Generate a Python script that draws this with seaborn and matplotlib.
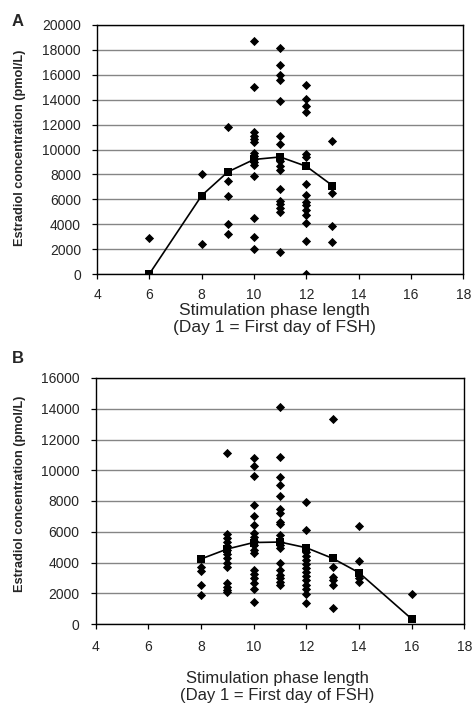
import matplotlib
matplotlib.use("Agg")
import matplotlib.pyplot as plt
import seaborn as sns
import pandas as pd

# ---------------- Panel A data ----------------
a_days = [6, 8, 9, 10, 11, 12, 13]
a_day6 = [2880]
a_day8 = [8060, 2440]
a_day9 = [11790, 7450, 6260, 4000, 3200]
a_day10 = [18720, 15040, 11400, 11100, 10850, 10600, 9750, 9500, 9250, 9000,
           8750, 7850, 4520, 2980, 1990]
a_day11 = [18130, 16750, 16000, 15600, 13920, 11070, 10450, 9060, 8710, 8390,
           6800, 5890, 5620, 5300, 4980, 1750]
a_day12 = [15150, 14080, 13520, 13000, 9600, 9400, 7200, 6370, 5780, 5510,
           5160, 4760, 4110, 2690, 0]
a_day13 = [10670, 6480, 3820, 2560]
a_mean = [0, 6300, 8200, 9200, 9400, 8650, 7100]

# ---------------- Panel B data ----------------
b_days = [8, 9, 10, 11, 12, 13, 14, 16]
b_day8 = [3690, 3470, 2540, 1890]
b_day9 = [11100, 5850, 5570, 5310, 5070, 4810, 4550, 4270, 3950, 3730, 2650,
          2430, 2210, 2060]
b_day10 = [10780, 10300, 9630, 7760, 7020, 6440, 5900, 5680, 5420, 5140, 4810,
           4600, 3510, 3250, 2970, 2650, 2280, 1410]
b_day11 = [14130, 10840, 9580, 9040, 8330, 7460, 7240, 6650, 6500, 5790, 5350,
           5140, 4920, 3990, 3510, 3190, 2970, 2750, 2540]
b_day12 = [7960, 6110, 4700, 4420, 4160, 3900, 3620, 3400, 3120, 2860, 2540,
           2260, 1950, 1350]
b_day13 = [13330, 3730, 3080, 2860, 2540, 1020]
b_day14 = [6370, 4120, 2970, 2750]
b_day16 = [1950]
b_mean = [4230, 4880, 5300, 5330, 4960, 4270, 3340, 330]

x_ticks = [4, 6, 8, 10, 12, 14, 16, 18]
a_y_ticks = list(range(0, 20001, 2000))
b_y_ticks = list(range(0, 16001, 2000))

y_label = "Estradiol concentration (pmol/L)"
x_label = "Stimulation phase length\n(Day 1 = First day of FSH)"


def to_frame(groups):
    rows = []
    for day, vals in groups:
        for v in vals:
            rows.append({"day": day, "e2": v})
    return pd.DataFrame(rows)


a_pts = to_frame([(6, a_day6), (8, a_day8), (9, a_day9), (10, a_day10),
                  (11, a_day11), (12, a_day12), (13, a_day13)])
b_pts = to_frame([(8, b_day8), (9, b_day9), (10, b_day10), (11, b_day11),
                  (12, b_day12), (13, b_day13), (14, b_day14), (16, b_day16)])
a_line = pd.DataFrame({"day": a_days, "e2": a_mean})
b_line = pd.DataFrame({"day": b_days, "e2": b_mean})

sns.set_style("white")
plt.rcParams["font.family"] = ["Liberation Sans", "DejaVu Sans"]

W, H = 475, 705
fig = plt.figure(figsize=(W / 100, H / 100), dpi=100)


def px_axes(left, top, right, bottom):
    return fig.add_axes([left / W, 1 - bottom / H, (right - left) / W,
                         (bottom - top) / H])


axA = px_axes(97, 25, 463.3, 274)
axB = px_axes(95.7, 378, 464.3, 624)


def style(ax, pts, line, yticks, ymax, xl_coords, yl_coords, xl_size, xpad):
    ax.set_axisbelow(True)
    for yt in yticks:
        ax.axhline(yt, color="#858585", lw=1.0, zorder=0)
    sns.lineplot(data=line, x="day", y="e2", ax=ax, color="black", lw=1.2,
                 marker="s", markersize=5.5, markeredgewidth=0, zorder=3)
    sns.scatterplot(data=pts, x="day", y="e2", ax=ax, marker="D", color="black",
                    s=22, linewidth=0, zorder=4)
    ax.set_xlim(4, 18)
    ax.set_ylim(0, ymax)
    ax.set_xticks(x_ticks)
    ax.set_yticks(yticks)
    ax.tick_params(axis="both", direction="out", length=3.5, width=0.9,
                   labelsize=10, color="black", left=True, bottom=True)
    ax.tick_params(axis="y", pad=8)
    ax.tick_params(axis="x", pad=xpad)
    for sp in ax.spines.values():
        sp.set_color("black")
        sp.set_linewidth(1.0)
        sp.set_visible(True)
    ax.set_xlabel(x_label, fontsize=xl_size, ha="center", va="center")
    ax.xaxis.set_label_coords(*xl_coords)
    ax.set_ylabel(y_label, fontsize=9.2, fontweight="bold", va="center")
    ax.yaxis.set_label_coords(*yl_coords)


style(axA, a_pts, a_line, a_y_ticks, 20000,
      ((274.5 - 97) / 366.3, (274 - 319) / 249),
      ((20 - 97) / 366.3, (274 - 148) / 249), 12.5, 6.5)
style(axB, b_pts, b_line, b_y_ticks, 16000,
      ((277.5 - 95.7) / 368.6, (624 - 687) / 246),
      ((20 - 95.7) / 368.6, (624 - 494) / 246), 12, 8)

fig.text(18 / W, 1 - 21 / H, "A", fontsize=12, fontweight="bold",
         ha="center", va="center")
fig.text(18 / W, 1 - 359 / H, "B", fontsize=12, fontweight="bold",
         ha="center", va="center")

fig.savefig("out.png", dpi=100)
